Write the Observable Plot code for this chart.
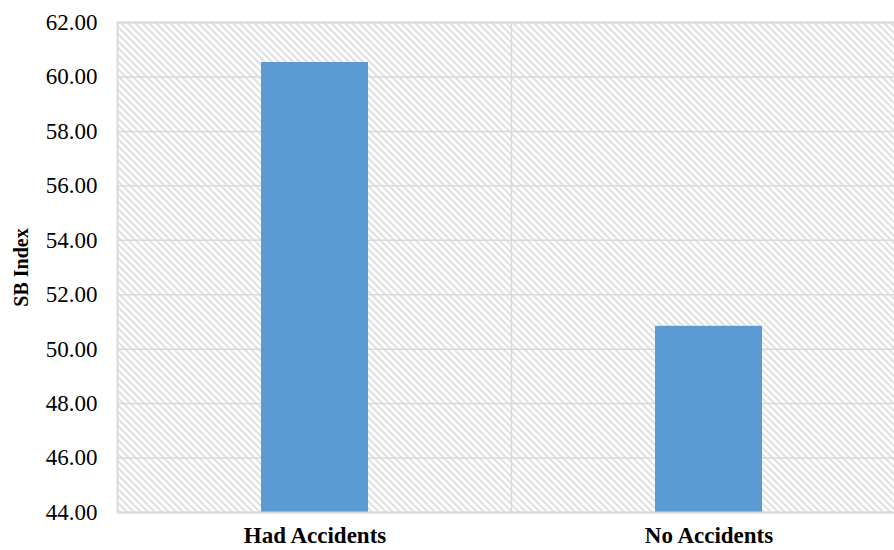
<!DOCTYPE html>
<html>
<head>
<meta charset="utf-8">
<script src="https://cdn.jsdelivr.net/npm/d3@7"></script>
<script src="https://cdn.jsdelivr.net/npm/@observablehq/plot@0.6"></script>
<style>
  html, body { margin: 0; padding: 0; background: white; overflow: hidden; }
</style>
</head>
<body>
<div id="chart"></div>
<script>
const categories = ["Had Accidents", "No Accidents"];
const sbIndex = [60.53, 50.84];
const yTicks = [44, 46, 48, 50, 52, 54, 56, 58, 60, 62];
const yLabel = "SB Index";

const data = categories.map((c, i) => ({category: c, value: sbIndex[i]}));
const gridColor = "#d9d9d9";

// vertical divider between categories, positioned with the x band scale
function dividers(index, scales, values, dimensions) {
  const x = scales.x;
  const bw = typeof x.bandwidth === "function" ? x.bandwidth() : x.bandwidth;
  const {marginTop, height, marginBottom} = dimensions;
  const g = d3.create("svg:g");
  categories.slice(1).forEach((c, i) => {
    const xm = (x(categories[i]) + bw + x(c)) / 2;
    g.append("line")
      .attr("x1", xm).attr("x2", xm)
      .attr("y1", marginTop).attr("y2", height - marginBottom)
      .attr("stroke", gridColor).attr("stroke-width", 1.5);
  });
  return g.node();
}

const svg = Plot.plot({
  width: 894,
  height: 550,
  marginLeft: 117,
  marginRight: -12,
  marginTop: 22,
  marginBottom: 38,
  style: {fontFamily: "'Liberation Serif', 'Times New Roman', serif", fontSize: "20px", background: "white", color: "black"},
  x: {domain: categories, paddingInner: 0.728, paddingOuter: 0.364, label: null},
  y: {domain: [44, 62], label: null},
  marks: [
    Plot.frame({fill: "url(#hatch)", stroke: null}),
    Plot.gridY(yTicks, {stroke: gridColor, strokeOpacity: 1, strokeWidth: 1.5}),
    dividers,
    Plot.barY(data, {x: "category", y1: 44, y2: "value", fill: "#5b9bd5"}),
    Plot.frame({stroke: gridColor, strokeWidth: 2}),
    Plot.axisY({ticks: yTicks, tickFormat: d3.format(".2f"), tickSize: 0, tickPadding: 20, label: null, fontSize: 23}),
    Plot.axisY({ticks: [], label: yLabel, labelAnchor: "center", labelOffset: 104, labelArrow: "none", fontWeight: "bold", fontSize: 20}),
    Plot.axisX({tickSize: 0, tickPadding: 14, label: null, fontWeight: "bold", fontSize: 23})
  ]
});

const defs = d3.select(svg).insert("defs", ":first-child");
const pat = defs.append("pattern")
  .attr("id", "hatch")
  .attr("patternUnits", "userSpaceOnUse")
  .attr("width", 7).attr("height", 7);
pat.append("rect").attr("width", 7).attr("height", 7).attr("fill", "white");
pat.append("path")
  .attr("d", "M-1,-1 L8,8 M-1,6 L1,8 M6,-1 L8,1")
  .attr("stroke", "#cfcfcf").attr("stroke-width", 1.3).attr("fill", "none");

document.getElementById("chart").appendChild(svg);
</script>
</body>
</html>
